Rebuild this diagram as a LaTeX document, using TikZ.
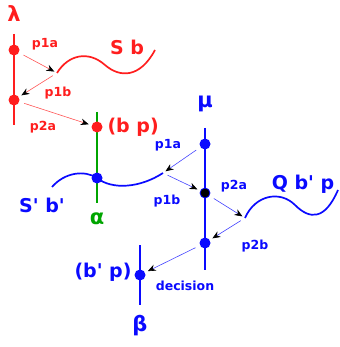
\documentclass[tikz,border=0pt]{standalone}
\usepackage{fontspec}
\setmainfont{DejaVu Sans}
\usetikzlibrary{arrows.meta}
\definecolor{pred}{RGB}{255,30,30}
\definecolor{pblue}{RGB}{10,10,255}
\definecolor{pgreen}{RGB}{0,165,0}
\newcommand{\q}{\textquotesingle}

\begin{document}
\begin{tikzpicture}[x=1pt,y=-1pt,
  dot/.style={circle,fill=#1,inner sep=0pt,minimum size=11pt},
  big/.style={font=\bfseries\fontsize{19}{21}\selectfont,text=#1},
  greek/.style={font=\bfseries\fontsize{21}{23}\selectfont,text=#1},
  small/.style={font=\bfseries\fontsize{12.5}{14}\selectfont,text=#1},
  arr/.style={draw=#1!75,line width=0.6pt,shorten <=5pt,shorten >=3pt,-{Stealth[length=8pt,width=6.5pt,color=black]}},
  thick line/.style={draw=#1,line width=1.7pt}]
\useasboundingbox (0,0) rectangle (339,347);
% red thread
\draw[thick line=pred] (14,34) -- (14,125);
\node[greek=pred] (lam) at (14,14) {λ};
\node[dot=pred] (la) at (14,50) {};
\node[dot=pred] (lb) at (14,100) {};
\coordinate (sb0) at (57,73);
\draw[thick line=pred] (sb0) .. controls (68,55) and (88,50) .. (105,65) .. controls (120,78) and (140,78) .. (155,50);
\node[big=pred] (sb) at (127,47) {S b};
\node[small=pred] (p1a) at (45,44) {p1a};
\node[small=pred] (p1b) at (58,93) {p1b};
\node[small=pred] (p2a) at (43,127) {p2a};
% green thread
\draw[thick line=pgreen] (97,112) -- (97,203);
\node[greek=pgreen] (alpha) at (97,219) {α};
\node[dot=pred] (bp) at (97,127) {};
\node[big=pred,anchor=west] (bplbl) at (104,127) {(b p)};
% blue wave S' b'
\coordinate (sp0) at (52,187);
\coordinate (sp1) at (163,173);
\draw[thick line=pblue] (sp0) .. controls (65,172) and (85,170) .. (97,178) .. controls (112,190) and (140,188) .. (sp1);
\node[dot=pblue] (al) at (97,178) {};
\node[big=pblue] (spb) at (42,205) {S\q{} b\q};
% mu thread
\draw[thick line=pblue] (205,128) -- (205,270);
\node[greek=pblue] (mu) at (205,104) {μ};
\node[dot=pblue] (ma) at (205,144) {};
\node[dot=black,draw=pblue,line width=0.8pt,minimum size=10pt] (mb) at (205,193) {};
\node[dot=pblue] (mc) at (205,243) {};
\node[small=pblue] (q1a) at (168,145) {p1a};
\node[small=pblue] (q1b) at (167,201) {p1b};
\node[small=pblue] (q2a) at (234,186) {p2a};
\node[small=pblue] (q2b) at (255,246) {p2b};
% blue wave Q b' p
\coordinate (qb0) at (245,218);
\draw[thick line=pblue] (qb0) .. controls (255,195) and (280,190) .. (295,205) .. controls (310,220) and (325,220) .. (338,190);
\node[big=pblue] (qbp) at (303,184) {Q b\q{} p};
% beta thread
\draw[thick line=pblue] (140,245) -- (140,305);
\node[dot=pblue] (bt) at (140,275) {};
\node[big=pblue] (btl) at (103,272) {(b\q{} p)};
\node[greek=pblue] (beta) at (140,326) {β};
\node[small=pblue] (dec) at (185,286) {decision};
% arrows
\draw[arr=pred] (la) -- (sb0);
\draw[arr=pred] (sb0) -- (lb);
\draw[arr=pred] (lb) -- (bp);
\draw[arr=pblue] (ma) -- (sp1);
\draw[arr=pblue] (sp1) -- (mb);
\draw[arr=pblue] (mb) -- (qb0);
\draw[arr=pblue] (qb0) -- (mc);
\draw[arr=pblue] (mc) -- (bt);
\end{tikzpicture}
\end{document}
